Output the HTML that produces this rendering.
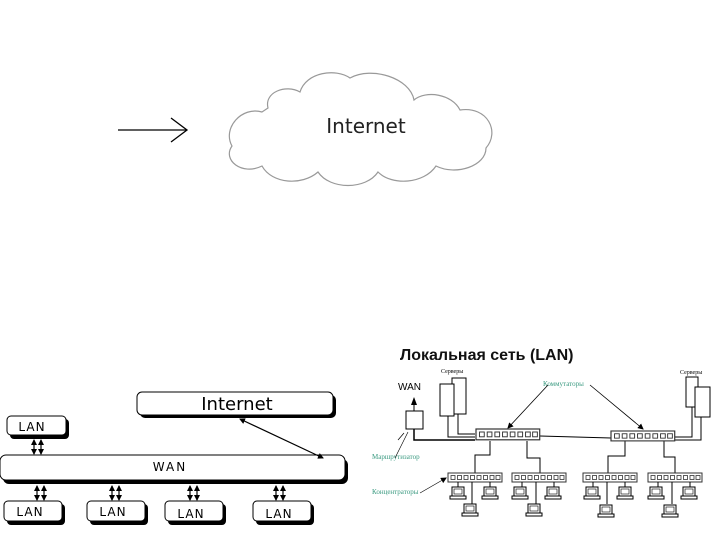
<!DOCTYPE html>
<html><head><meta charset="utf-8"><style>
html,body{margin:0;padding:0;background:#fff;width:720px;height:540px;overflow:hidden}
svg{display:block}
</style></head><body>
<svg width="720" height="540" viewBox="0 0 720 540" xmlns="http://www.w3.org/2000/svg">
<defs>
<g id="pc">
<rect x="-6" y="0" width="12" height="9" fill="#fff" stroke="#000" stroke-width="1"/>
<rect x="-4" y="2" width="8" height="5" fill="#fff" stroke="#000" stroke-width="0.6"/>
<rect x="-8" y="9" width="16" height="3" fill="#fff" stroke="#000" stroke-width="1"/>
</g>
<g id="hub">
<rect x="0" y="0" width="54" height="9" fill="#fff" stroke="#333" stroke-width="1"/>
<g fill="none" stroke="#333" stroke-width="0.8">
<rect x="3" y="2.5" width="4" height="4"/><rect x="9.5" y="2.5" width="4" height="4"/><rect x="16" y="2.5" width="4" height="4"/><rect x="22.5" y="2.5" width="4" height="4"/><rect x="29" y="2.5" width="4" height="4"/><rect x="35.5" y="2.5" width="4" height="4"/><rect x="42" y="2.5" width="4" height="4"/><rect x="48" y="2.5" width="4" height="4"/>
</g>
</g>
<marker id="ah" markerWidth="8" markerHeight="8" refX="7" refY="4" orient="auto" markerUnits="userSpaceOnUse"><path d="M0,1 L8,4 L0,7 z" fill="#000"/></marker>
<marker id="as" markerWidth="6" markerHeight="6" refX="5" refY="3" orient="auto-start-reverse" markerUnits="userSpaceOnUse"><path d="M0,0 L6,3 L0,6 z" fill="#000"/></marker>
</defs>

<line x1="118" y1="130" x2="186" y2="130" stroke="#000" stroke-width="1.3"/>
<polyline points="171,118 187,130 171,142" fill="none" stroke="#000" stroke-width="1.3"/>

<path d="M262,112 C242,106 222,128 232,146 C222,160 242,176 262,166 C272,184 302,186 318,172 C330,190 366,190 378,172 C392,186 424,184 436,166 C456,176 486,166 486,148 C500,132 488,106 460,110 C452,94 426,90 414,100 C410,78 372,66 350,78 C336,68 306,72 300,92 C286,84 264,92 268,108 Z" fill="#fff" stroke="#999" stroke-width="1.2"/>
<text x="366" y="133" font-family="'DejaVu Sans','Liberation Sans',sans-serif" font-size="20" text-anchor="middle" fill="#222">Internet</text>

<g font-family="'DejaVu Sans','Liberation Sans',sans-serif" fill="#000">
<rect x="140" y="395" width="196" height="23" rx="5" fill="#000"/>
<rect x="137" y="392" width="196" height="23" rx="5" fill="#fff" stroke="#000"/>
<text x="237" y="410" font-size="18" text-anchor="middle">Internet</text>

<rect x="10" y="419" width="59" height="20" rx="4" fill="#000"/>
<rect x="7" y="416" width="59" height="19" rx="4" fill="#fff" stroke="#000"/>
<text x="32" y="431" font-size="12" text-anchor="middle" letter-spacing="1">LAN</text>

<rect x="3" y="459" width="345" height="25" rx="6" fill="#000"/>
<rect x="0" y="455" width="345" height="25" rx="6" fill="#fff" stroke="#000"/>
<text x="170" y="471" font-size="12" text-anchor="middle" letter-spacing="2">WAN</text>

<rect x="7" y="504" width="58" height="21" rx="4" fill="#000"/>
<rect x="4" y="501" width="58" height="20" rx="4" fill="#fff" stroke="#000"/>
<text x="30" y="516" font-size="12" text-anchor="middle" letter-spacing="1">LAN</text>
<rect x="90" y="504" width="58" height="21" rx="4" fill="#000"/>
<rect x="87" y="501" width="58" height="20" rx="4" fill="#fff" stroke="#000"/>
<text x="113" y="516" font-size="12" text-anchor="middle" letter-spacing="1">LAN</text>
<rect x="168" y="504" width="58" height="21" rx="4" fill="#000"/>
<rect x="165" y="501" width="58" height="20" rx="4" fill="#fff" stroke="#000"/>
<text x="191" y="518" font-size="12" text-anchor="middle" letter-spacing="1">LAN</text>
<rect x="256" y="504" width="58" height="21" rx="4" fill="#000"/>
<rect x="253" y="501" width="58" height="20" rx="4" fill="#fff" stroke="#000"/>
<text x="279" y="518" font-size="12" text-anchor="middle" letter-spacing="1">LAN</text>
</g>
<g stroke="#000" stroke-width="1.2">
<line x1="34" y1="440" x2="34" y2="454" marker-end="url(#as)" marker-start="url(#as)"/>
<line x1="41" y1="440" x2="41" y2="454" marker-end="url(#as)" marker-start="url(#as)"/>
<line x1="37" y1="486" x2="37" y2="500" marker-end="url(#as)" marker-start="url(#as)"/>
<line x1="44" y1="486" x2="44" y2="500" marker-end="url(#as)" marker-start="url(#as)"/>
<line x1="112" y1="486" x2="112" y2="500" marker-end="url(#as)" marker-start="url(#as)"/>
<line x1="119" y1="486" x2="119" y2="500" marker-end="url(#as)" marker-start="url(#as)"/>
<line x1="190" y1="486" x2="190" y2="500" marker-end="url(#as)" marker-start="url(#as)"/>
<line x1="197" y1="486" x2="197" y2="500" marker-end="url(#as)" marker-start="url(#as)"/>
<line x1="276" y1="486" x2="276" y2="500" marker-end="url(#as)" marker-start="url(#as)"/>
<line x1="283" y1="486" x2="283" y2="500" marker-end="url(#as)" marker-start="url(#as)"/>
<line x1="240" y1="419" x2="323" y2="458" marker-end="url(#as)" marker-start="url(#as)"/>
</g>

<text x="400" y="360" font-family="'Liberation Sans',sans-serif" font-weight="bold" font-size="16" fill="#111">Локальная сеть (LAN)</text>
<text x="398" y="390" font-family="'Liberation Sans',sans-serif" font-size="10" fill="#000">WAN</text>
<text x="441" y="373" font-family="'Liberation Serif',serif" font-size="6" fill="#000">Серверы</text>
<text x="680" y="374" font-family="'Liberation Serif',serif" font-size="6" fill="#000">Серверы</text>
<text x="543" y="386" font-family="'Liberation Serif',serif" font-size="7" fill="#3a9a80">Коммутаторы</text>
<text x="372" y="459" font-family="'Liberation Serif',serif" font-size="7" fill="#3a9a80">Маршрутизатор</text>
<text x="372" y="494" font-family="'Liberation Serif',serif" font-size="7" fill="#3a9a80">Концентраторы</text>

<g stroke="#000" fill="none" stroke-width="1">
<rect x="406" y="411" width="17" height="18" fill="#fff"/>
<line x1="414" y1="411" x2="414" y2="398" marker-end="url(#ah)"/>
<path d="M414,429 V440 H475" stroke-width="1.5"/>
<line x1="404" y1="433" x2="398" y2="440" stroke-width="0.7"/>
<rect x="452" y="378" width="14" height="36" fill="#fff"/>
<rect x="440" y="384" width="14" height="32" fill="#fff"/>
<path d="M448,416 V437 H475"/>
<path d="M458,414 V434 H475"/>
<rect x="686" y="377" width="12" height="30" fill="#fff"/>
<rect x="695" y="387" width="15" height="30" fill="#fff"/>
<path d="M701,417 V440 H675"/>
<path d="M692,407 V437 H675"/>
<line x1="540" y1="436" x2="611" y2="438"/>
<path d="M490,441 V455 H475 V473"/>
<path d="M527,441 V458 H540 V473"/>
<path d="M625,441 V456 H608 V473"/>
<path d="M664,441 V457 H675 V473"/>
<line x1="548" y1="385" x2="508" y2="428" stroke-width="0.8" marker-end="url(#as)"/>
<line x1="590" y1="385" x2="643" y2="429" stroke-width="0.8" marker-end="url(#as)"/>
<line x1="395" y1="458" x2="408" y2="432" stroke-width="0.6"/>
<line x1="420" y1="493" x2="446" y2="478" stroke-width="0.6" marker-end="url(#as)"/>
</g>
<g transform="translate(476,429) scale(1.18,1.2)"><use href="#hub"/></g>
<g transform="translate(611,431) scale(1.18,1.1)"><use href="#hub"/></g>
<use href="#hub" x="448" y="473"/>
<use href="#hub" x="512" y="473"/>
<use href="#hub" x="583" y="473"/>
<use href="#hub" x="648" y="473"/>

<g stroke="#000" stroke-width="1">
<line x1="458" y1="482" x2="458" y2="487"/><line x1="490" y1="482" x2="490" y2="487"/><line x1="472" y1="482" x2="472" y2="504"/>
<line x1="522" y1="482" x2="522" y2="487"/><line x1="554" y1="482" x2="554" y2="487"/><line x1="536" y1="482" x2="536" y2="504"/>
<line x1="593" y1="482" x2="593" y2="487"/><line x1="625" y1="482" x2="625" y2="487"/><line x1="607" y1="482" x2="607" y2="504"/>
<line x1="658" y1="482" x2="658" y2="487"/><line x1="690" y1="482" x2="690" y2="487"/><line x1="672" y1="482" x2="672" y2="504"/>
</g>
<use href="#pc" x="458" y="487"/><use href="#pc" x="490" y="487"/><use href="#pc" x="470" y="504"/>
<use href="#pc" x="520" y="487"/><use href="#pc" x="553" y="487"/><use href="#pc" x="534" y="504"/>
<use href="#pc" x="592" y="487"/><use href="#pc" x="625" y="487"/><use href="#pc" x="606" y="505"/>
<use href="#pc" x="656" y="487"/><use href="#pc" x="689" y="487"/><use href="#pc" x="670" y="505"/>
</svg>
</body></html>
